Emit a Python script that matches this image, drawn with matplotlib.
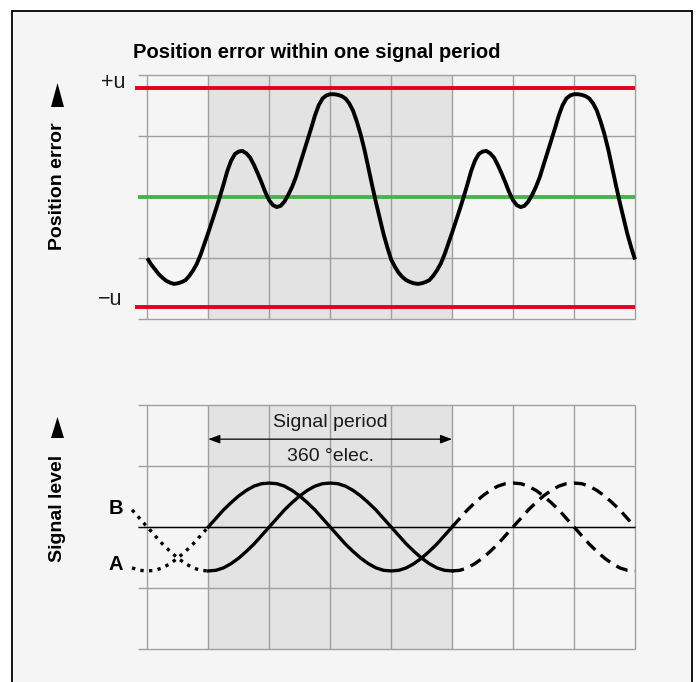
import matplotlib
matplotlib.use('Agg')
import matplotlib.pyplot as plt
import numpy as np
from matplotlib.patches import Rectangle, FancyArrowPatch, Polygon

plt.rcParams['font.family'] = ['Liberation Sans', 'DejaVu Sans']

# Chart data (grid units: 1 column = 1 unit, 1 row = 1 unit)
grid_cols = 8
grid_rows = [-2, -1, 0, 1, 2]
shaded_period = (1, 5)
tolerance = 1.8

# Position error curve, sampled every 1/16 column
error_x = np.arange(0, 8.0001, 0.0625)
error_y = [-1.00, -1.10, -1.18, -1.26, -1.32, -1.37, -1.40, -1.42,
           -1.41, -1.39, -1.36, -1.29, -1.20, -1.09, -0.94, -0.76,
           -0.58, -0.39, -0.20, 0.00, 0.21, 0.43, 0.60, 0.71,
           0.75, 0.76, 0.72, 0.65, 0.53, 0.39, 0.24, 0.08,
           -0.05, -0.13, -0.16, -0.14, -0.07, 0.04, 0.17, 0.33,
           0.53, 0.73, 0.93, 1.13, 1.34, 1.51, 1.62, 1.67,
           1.69, 1.69, 1.68, 1.66, 1.62, 1.54, 1.42, 1.24,
           1.03, 0.78, 0.49, 0.20, -0.08, -0.34, -0.60, -0.82,
           -1.02, -1.14, -1.24, -1.31, -1.36, -1.39, -1.41, -1.42,
           -1.41, -1.39, -1.36, -1.29, -1.20, -1.09, -0.94, -0.76,
           -0.58, -0.39, -0.20, 0.00, 0.21, 0.43, 0.60, 0.71,
           0.75, 0.76, 0.72, 0.65, 0.53, 0.39, 0.24, 0.08,
           -0.05, -0.13, -0.16, -0.14, -0.07, 0.04, 0.17, 0.33,
           0.53, 0.73, 0.93, 1.13, 1.34, 1.51, 1.62, 1.67,
           1.69, 1.69, 1.68, 1.66, 1.62, 1.54, 1.42, 1.24,
           1.03, 0.78, 0.49, 0.20, -0.08, -0.34, -0.60, -0.82,
           -1.02]

# Signal levels A and B, sampled every 1/8 column from -0.25
signal_x = np.arange(-0.25, 8.0001, 0.125)
level_a = [-0.67, -0.71,
           -0.72, -0.71, -0.67, -0.60, -0.51, -0.40, -0.28, -0.14,
           0, 0.14, 0.28, 0.40, 0.51, 0.60, 0.67, 0.71,
           0.72, 0.71, 0.67, 0.60, 0.51, 0.40, 0.28, 0.14,
           0, -0.14, -0.28, -0.40, -0.51, -0.60, -0.67, -0.71,
           -0.72, -0.71, -0.67, -0.60, -0.51, -0.40, -0.28, -0.14,
           0, 0.14, 0.28, 0.40, 0.51, 0.60, 0.67, 0.71,
           0.72, 0.71, 0.67, 0.60, 0.51, 0.40, 0.28, 0.14,
           0, -0.14, -0.28, -0.40, -0.51, -0.60, -0.67, -0.71,
           -0.72]
level_b = [0.28, 0.14, 0, -0.14, -0.28, -0.40, -0.51, -0.60, -0.67, -0.71,
           -0.72, -0.71, -0.67, -0.60, -0.51, -0.40, -0.28, -0.14,
           0, 0.14, 0.28, 0.40, 0.51, 0.60, 0.67, 0.71,
           0.72, 0.71, 0.67, 0.60, 0.51, 0.40, 0.28, 0.14,
           0, -0.14, -0.28, -0.40, -0.51, -0.60, -0.67, -0.71,
           -0.72, -0.71, -0.67, -0.60, -0.51, -0.40, -0.28, -0.14,
           0, 0.14, 0.28, 0.40, 0.51, 0.60, 0.67, 0.71,
           0.72, 0.71, 0.67, 0.60, 0.51, 0.40, 0.28, 0.14,
           0]

W, H = 698, 682
fig = plt.figure(figsize=(W / 100, H / 100), dpi=100)
fig.patch.set_facecolor('white')

# frame around the whole figure
fig.patches.append(Rectangle((12 / W, -0.02), 680 / W, (H - 11) / H + 0.02,
                             transform=fig.transFigure, facecolor='#f5f5f5',
                             edgecolor='black', lw=1.3, zorder=-10))

x0, ux, uy = 147.3, 60.96, 61.0
xlim = (-0.4, 8.1)
ylim = (-2.1, 2.1)


def make_axes(center_px):
    left = x0 + xlim[0] * ux
    right = x0 + xlim[1] * ux
    top = center_px - ylim[1] * uy
    bottom = center_px - ylim[0] * uy
    ax = fig.add_axes([left / W, 1 - bottom / H, (right - left) / W, (bottom - top) / H])
    ax.set_zorder(2)
    ax.set_xlim(*xlim)
    ax.set_ylim(*ylim)
    ax.axis('off')
    ax.add_patch(Rectangle((shaded_period[0], grid_rows[0]),
                           shaded_period[1] - shaded_period[0],
                           grid_rows[-1] - grid_rows[0],
                           facecolor='#e3e3e3', edgecolor='none', zorder=1))
    ax.vlines(range(grid_cols + 1), grid_rows[0], grid_rows[-1], color='#a0a0a0', lw=1.0, zorder=2)
    ax.hlines(grid_rows, -0.16, grid_cols, color='#a0a0a0', lw=1.0, zorder=2)
    return ax


def axis_label(text, center_px, tri_top, tri_bottom):
    fig.text(58 / W, 1 - center_px / H, text, rotation=90,
             fontsize=14, fontweight='bold', ha='center', va='center')
    # upward arrow head next to the label
    tri = [(57.5 / W, 1 - tri_top / H), (51 / W, 1 - tri_bottom / H), (64 / W, 1 - tri_bottom / H)]
    fig.add_artist(Polygon(tri, closed=True, transform=fig.transFigure,
                           facecolor='black', edgecolor='none'))


# ---- top panel: position error ----
ax1 = make_axes(197.3)
ax1.hlines(0, -0.16, grid_cols, color='#4cb050', lw=2.8, zorder=3)
ax1.hlines([tolerance, -tolerance], -0.2, grid_cols, color='#e2001a', lw=2.8, zorder=3)
ax1.plot(error_x, error_y, color='black', lw=2.8, solid_joinstyle='round',
         solid_capstyle='butt', zorder=4)
ax1.text(-0.36, 1.88, '+u', ha='right', va='center', fontsize=15.5, color='#1a1a1a')
ax1.text(-0.40, -1.67, '\u2212u', ha='right', va='center', fontsize=15.5, color='#1a1a1a')

fig.text(133 / W, 1 - 53 / H, 'Position error within one signal period',
         fontsize=14.5, fontweight='bold', ha='left', va='center')
axis_label('Position error', 186, 83, 107)

# ---- bottom panel: signal level ----
ax2 = make_axes(527)
ax2.hlines(0, -0.16, grid_cols, color='black', lw=1.0, zorder=3)

i1 = 10   # x = 1
i2 = 42   # x = 5
for lev in (level_a, level_b):
    lev = np.array(lev)
    ax2.plot(signal_x[:i1 + 1], lev[:i1 + 1], color='black', lw=2.4,
             linestyle=(0, (1, 1.6)), dash_capstyle='butt', zorder=4)
    ax2.plot(signal_x[i1:i2 + 1], lev[i1:i2 + 1], color='black', lw=2.4,
             solid_joinstyle='round', zorder=4)
    ax2.plot(signal_x[i2:], lev[i2:], color='black', lw=2.4,
             linestyle=(0, (3.6, 2.2)), dash_capstyle='butt', zorder=4)

ax2.text(-0.4, 0.31, 'B', ha='right', va='center', fontsize=14.5, fontweight='bold')
ax2.text(-0.4, -0.61, 'A', ha='right', va='center', fontsize=14.5, fontweight='bold')

arrow = FancyArrowPatch((shaded_period[0], 1.44), (shaded_period[1], 1.44),
                        arrowstyle='<|-|>,head_length=7,head_width=2.6',
                        color='black', lw=0.9, shrinkA=0, shrinkB=0, zorder=5)
ax2.add_patch(arrow)
mid = (shaded_period[0] + shaded_period[1]) / 2
ax2.text(mid, 1.71, 'Signal period', ha='center', va='center', fontsize=14, color='#1a1a1a')
ax2.text(mid, 1.16, '360 \u00b0elec.', ha='center', va='center', fontsize=14, color='#1a1a1a')

axis_label('Signal level', 508, 417, 438)

plt.savefig('out.png', dpi=100)
